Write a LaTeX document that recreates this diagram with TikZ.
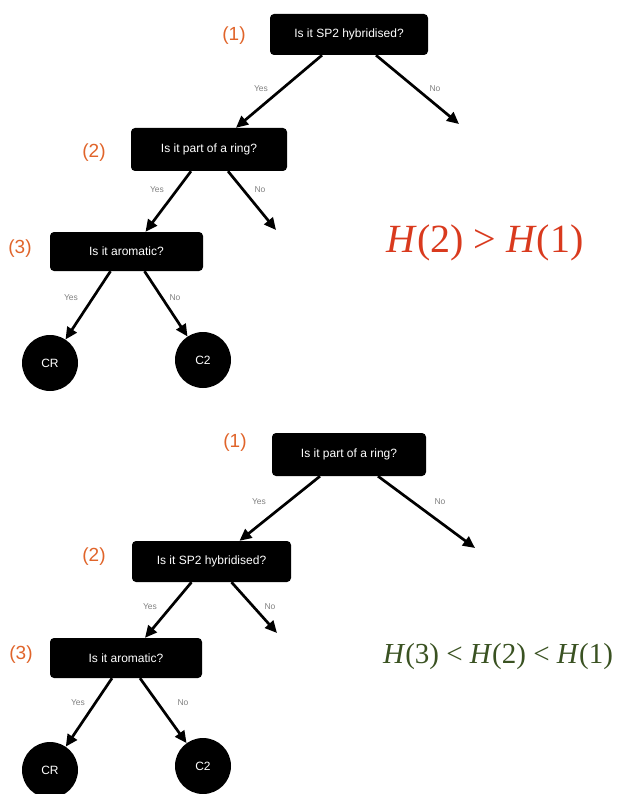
\documentclass[tikz,border=0pt]{standalone}
\usepackage{fontspec}
\setmainfont{Liberation Serif}
\newfontfamily\helv{Liberation Sans}
\usetikzlibrary{arrows.meta}
\definecolor{steporange}{HTML}{E0642A}
\definecolor{eqred}{HTML}{D93A1E}
\definecolor{eqgreen}{HTML}{3A5222}
\tikzset{
  qbox/.style={fill=black, rounded corners=4pt, text=white, inner sep=0pt,
    font=\helv\fontsize{12}{14}\selectfont},
  leaf/.style={circle, fill=black, text=white, minimum size=56pt, inner sep=0pt,
    font=\helv\fontsize{12}{14}\selectfont},
  level/.style={text=steporange, font=\helv\fontsize{19}{22}\selectfont},
  ans/.style={text=black!50, font=\helv\fontsize{8.5}{10}\selectfont},
  edge/.style={line width=2.7pt, -{Triangle[length=12pt,width=11pt]}},
}
\begin{document}
\begin{tikzpicture}[x=1pt,y=-1pt]
\useasboundingbox (0,0) rectangle (618,794);

% ---------- upper tree ----------
\node[qbox, minimum width=158pt, minimum height=41pt] (a1) at (349,34.5) {Is it SP2 hybridised?};
\node[qbox, minimum width=156pt, minimum height=43pt] (a2) at (209,149.5) {Is it part of a ring?};
\node[qbox, minimum width=153pt, minimum height=39pt] (a3) at (126.5,251.5) {Is it aromatic?};
\node[leaf] (acr) at (50,363) {CR};
\node[leaf] (ac2) at (203,360) {C2};
\node[level] (al1) at (234,36) {(1)};
\node[level] (al2) at (94,153) {(2)};
\node[level] (al3) at (20,249) {(3)};
\coordinate (ano1) at (459,124);
\coordinate (ano2) at (276,230);

\draw[edge] ([xshift=-27pt]a1.south) -- ([xshift=27pt]a2.north);
\draw[edge] ([xshift=27pt]a1.south) -- (ano1);
\draw[edge] ([xshift=-18pt]a2.south) -- ([xshift=19pt]a3.north);
\draw[edge] ([xshift=19pt]a2.south) -- (ano2);
\draw[edge] ([xshift=-16pt]a3.south) -- (acr);
\draw[edge] ([xshift=18pt]a3.south) -- (ac2);

\node[ans] (ay1) at (261,89) {Yes};
\node[ans] (an1) at (435,89) {No};
\node[ans] (ay2) at (157,190) {Yes};
\node[ans] (an2) at (260,190) {No};
\node[ans] (ay3) at (71,298) {Yes};
\node[ans] (an3) at (175,298) {No};

\node[text=eqred, font=\fontsize{40}{44}\selectfont] (aeq) at (485,243)
  {\textit{H}(2) > \textit{H}(1)};

% ---------- lower tree ----------
\node[qbox, minimum width=154pt, minimum height=43pt] (b1) at (349,454.5) {Is it part of a ring?};
\node[qbox, minimum width=159pt, minimum height=41pt] (b2) at (211.5,561.5) {Is it SP2 hybridised?};
\node[qbox, minimum width=152pt, minimum height=40pt] (b3) at (126,658) {Is it aromatic?};
\node[leaf] (bcr) at (50,770) {CR};
\node[leaf] (bc2) at (203,766) {C2};
\node[level] (bl1) at (235,443) {(1)};
\node[level] (bl2) at (94,557) {(2)};
\node[level] (bl3) at (21,655) {(3)};
\coordinate (bno1) at (475,548);
\coordinate (bno2) at (277,633);

\draw[edge] ([xshift=-29pt]b1.south) -- ([xshift=28pt]b2.north);
\draw[edge] ([xshift=29pt]b1.south) -- (bno1);
\draw[edge] ([xshift=-20pt]b2.south) -- ([xshift=19pt]b3.north);
\draw[edge] ([xshift=20pt]b2.south) -- (bno2);
\draw[edge] ([xshift=-14pt]b3.south) -- (bcr);
\draw[edge] ([xshift=14pt]b3.south) -- (bc2);

\node[ans] (by1) at (259,502) {Yes};
\node[ans] (bn1) at (440,502) {No};
\node[ans] (by2) at (150,607) {Yes};
\node[ans] (bn2) at (270,607) {No};
\node[ans] (by3) at (78,703) {Yes};
\node[ans] (bn3) at (183,703) {No};

\node[text=eqgreen, font=\fontsize{29}{32}\selectfont] (beq) at (498,657)
  {\textit{H}(3) < \textit{H}(2) < \textit{H}(1)};
\end{tikzpicture}
\end{document}
